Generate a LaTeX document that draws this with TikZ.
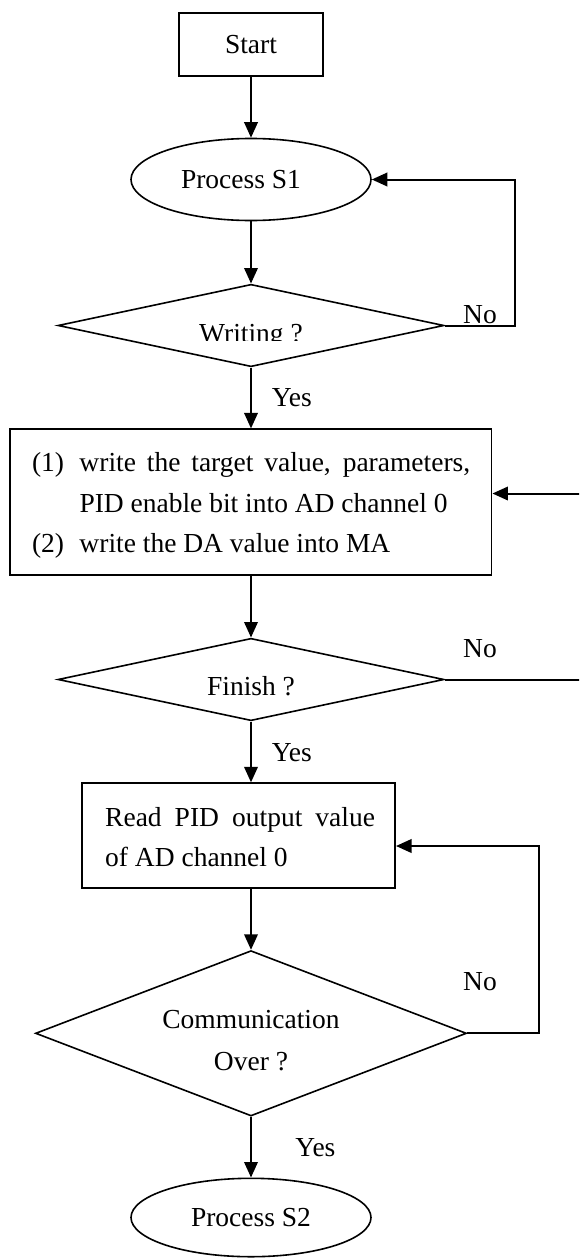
\documentclass[tikz,border=0pt]{standalone}
\usepackage{fontspec}
\setmainfont{Liberation Serif}
\usetikzlibrary{shapes.geometric,arrows.meta}

\begin{document}
\begin{tikzpicture}[x=1pt,y=-1pt,
  every node/.style={font=\fontsize{27.5pt}{42pt}\selectfont},
  procbox/.style={draw,line width=1.9pt,rectangle,inner sep=0pt},
  roundbox/.style={draw,line width=1.6pt,ellipse,inner sep=0pt,minimum width=240pt,minimum height=82pt},
  decision/.style={draw,line width=1.6pt,diamond,inner sep=0pt},
  conn/.style={line width=2pt,-{Triangle[width=13.5pt,length=15.5pt]}},
  lbl/.style={inner sep=0pt,anchor=base},
  para/.style={inner sep=0pt,anchor=north west,align=left}
]
\useasboundingbox (0,0) rectangle (579,1258);
\clip (0,0) rectangle (579,1258);

% main column
\node[procbox,minimum width=144pt,minimum height=63pt] (start) at (251,44.5) {Start};
\node[roundbox] (s1) at (251,179.5) {Process S1\hspace*{20pt}};

\node[decision,minimum width=386pt,minimum height=82.4pt] (wr) at (251,325.5) {};
\begin{scope}
  \clip (140,290) rectangle (360,340.5);
  \node[lbl] (wrt) at (251,342) {Writing ?};
\end{scope}

\node[procbox,minimum width=481.2pt,minimum height=145.7pt] (work) at (250.9,502.2) {};
\node[para,font=\fontsize{27.5pt}{40.5pt}\selectfont] (worktext) at (31.8,451.7)
  {\rule{0pt}{20pt}\makebox[47.5pt][l]{(1)}\makebox[390.7pt][s]{write the target value, parameters,}\\
   \hspace*{47.5pt}PID enable bit into AD channel 0\\
   \makebox[47.5pt][l]{(2)}write the DA value into MA};

\node[decision,minimum width=386pt,minimum height=82.4pt] (fin) at (251,679.5) {};
\node[lbl] (fint) at (251,695) {Finish ?};

\node[procbox,minimum width=312.7pt,minimum height=104.4pt] (read) at (238.7,835.5) {};
\node[para,font=\fontsize{27.5pt}{40pt}\selectfont] (readtext) at (105,806.7)
  {\rule{0pt}{20pt}\makebox[269.8pt][s]{Read PID output value}\\ of AD channel 0};

\node[decision,minimum width=431pt,minimum height=165.4pt] (com) at (251,1033.3) {};
\node[lbl] (comt1) at (251,1028.3) {Communication};
\node[lbl] (comt2) at (251,1070) {Over ?};

\node[roundbox,minimum height=78.4pt] (s2) at (251,1217.5) {Process S2};

% branch labels
\node[lbl] (no1) at (480,323.3) {No};
\node[lbl] (no2) at (480,657.3) {No};
\node[lbl] (no3) at (480,990) {No};
\node[lbl] (yes1) at (291.8,406.7) {Yes};
\node[lbl] (yes2) at (291.8,761.7) {Yes};
\node[lbl] (yes3) at (315.4,1156.7) {Yes};

% straight flow
\draw[conn] (start) -- (s1);
\draw[conn] (s1) -- (wr);
\draw[conn] (wr.south) -- (wr.south |- work.north);
\draw[conn] (fin.north |- work.south) -- (fin.north);
\draw[conn] (fin.south) -- (fin.south |- read.north);
\draw[conn] (com.north |- read.south) -- (com.north);
\draw[conn] (com.south) -- (s2.north);

% return loops
\coordinate (rA) at (515.4,0);
\coordinate (rB) at (590,0);
\coordinate (rC) at (539,0);
\coordinate (workin) at ([yshift=8.7pt]work.east);
\coordinate (readin) at ([yshift=-10.5pt]read.east);
\draw[conn] (wr.east) -| (rA |- s1.east) -- (s1.east);
\draw[conn] (fin.east) -| (rB |- workin) -- (workin);
\draw[conn] (com.east) -| (rC |- readin) -- (readin);
\end{tikzpicture}
\end{document}
